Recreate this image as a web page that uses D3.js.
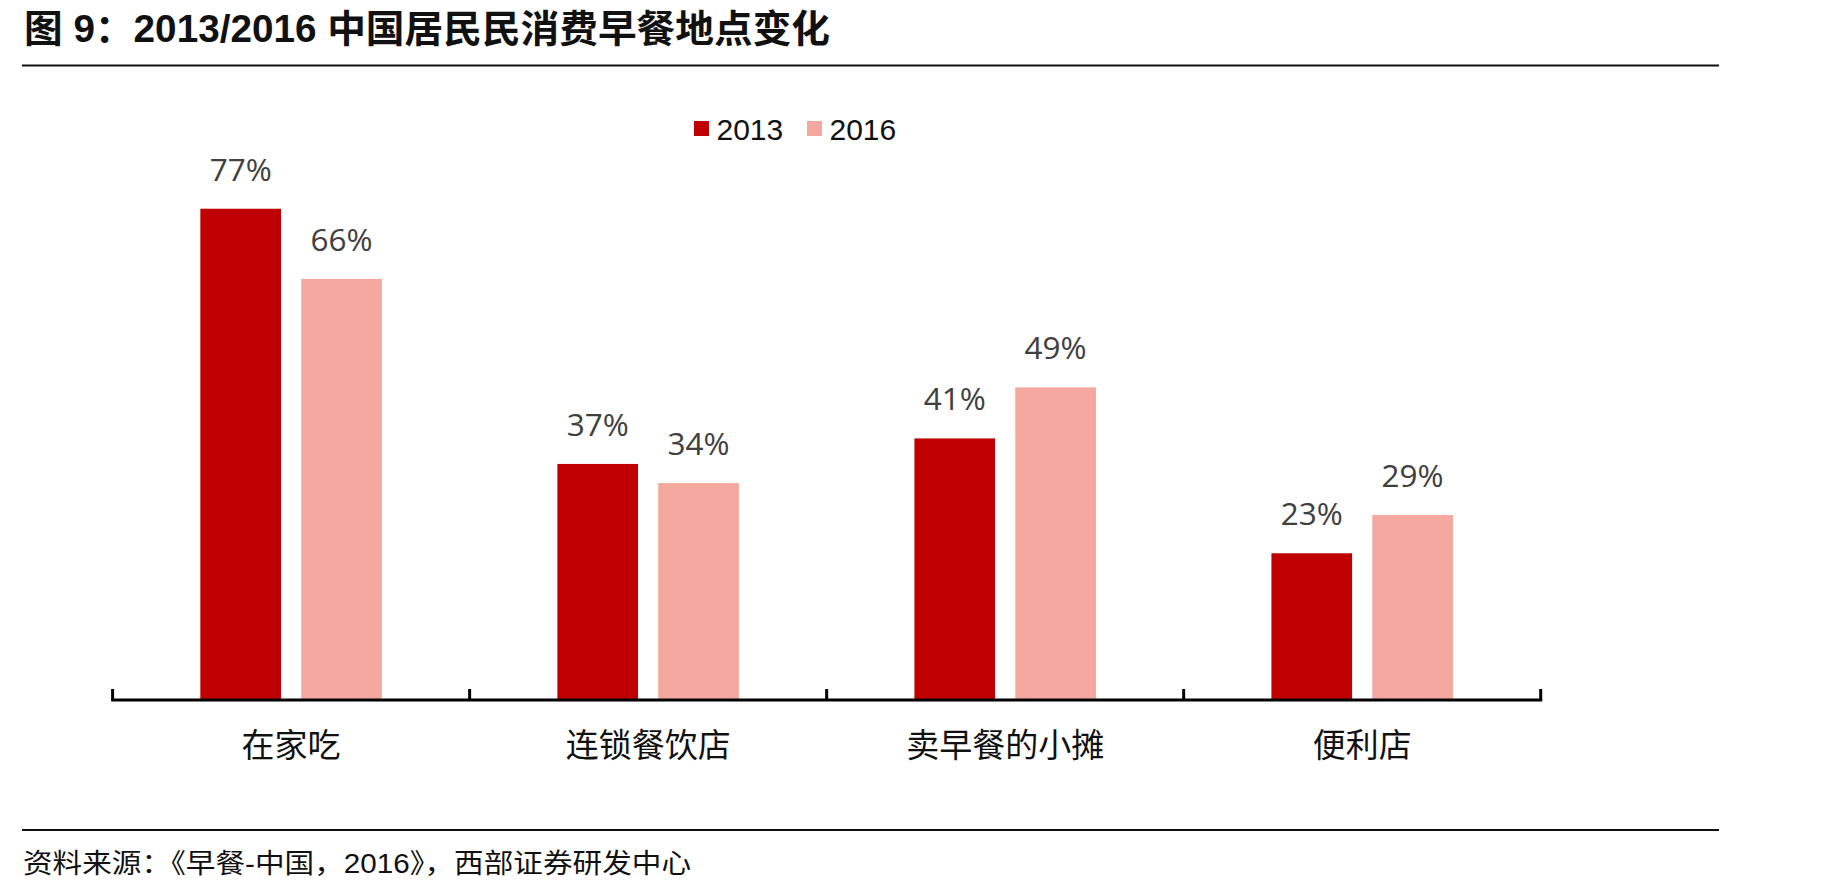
<!DOCTYPE html>
<html>
<head>
<meta charset="utf-8">
<script src="https://cdn.jsdelivr.net/npm/d3@7"></script>
<style>
  body { margin: 0; background: #fff; }
</style>
</head>
<body>
<div id="chart"></div>
<script>
var categories = ["在家吃", "连锁餐饮店", "卖早餐的小摊", "便利店"];
var years = ["2013", "2016"];
var values2013 = [77, 37, 41, 23];
var values2016 = [66, 34, 49, 29];
var colors = ["#c00000", "#f5a89f"];

var titleText = "图 9：2013/2016 中国居民民消费早餐地点变化";
var sourceText = "资料来源：《早餐-中国，2016》，西部证券研发中心";

var cjk = "'Liberation Sans', Arial, 'Noto Sans CJK SC', sans-serif";
var numFont = "'Open Sans', 'Noto Sans', sans-serif";

var svg = d3.select("#chart").append("svg")
    .attr("width", 1836)
    .attr("height", 894);

// title + rules
svg.append("text")
    .attr("x", 24)
    .attr("y", 42)
    .attr("textLength", 806)
    .attr("lengthAdjust", "spacingAndGlyphs")
    .style("font-family", cjk)
    .style("font-weight", "bold")
    .style("font-size", "38px")
    .style("fill", "#111")
    .text(titleText);

svg.append("line")
    .attr("x1", 22).attr("x2", 1719)
    .attr("y1", 65.5).attr("y2", 65.5)
    .attr("stroke", "#111").attr("stroke-width", 2);

svg.append("line")
    .attr("x1", 22).attr("x2", 1719)
    .attr("y1", 830).attr("y2", 830)
    .attr("stroke", "#111").attr("stroke-width", 2);

svg.append("text")
    .attr("x", 23)
    .attr("y", 873)
    .attr("textLength", 668)
    .attr("lengthAdjust", "spacingAndGlyphs")
    .style("font-family", cjk)
    .style("font-size", "27px")
    .style("fill", "#111")
    .text(sourceText);

// scales
var x0 = d3.scaleBand()
    .domain(categories)
    .range([112.6, 1540.7])
    .paddingInner(0)
    .paddingOuter(0);

var x1 = d3.scaleBand()
    .domain(years)
    .range([0, x0.bandwidth()])
    .paddingInner(0.2)
    .paddingOuter(0.87);

var y = d3.scaleLinear()
    .domain([0, 80])
    .range([700, 700 - 80 * 6.38]);

var data = categories.map(function(c, i) {
    return {cat: c, vals: [
        {year: "2013", v: values2013[i]},
        {year: "2016", v: values2016[i]}
    ]};
});

var groups = svg.append("g").selectAll("g")
    .data(data)
    .enter()
    .append("g")
    .attr("transform", function(d) { return "translate(" + x0(d.cat) + ",0)"; });

groups.selectAll("rect")
    .data(function(d) { return d.vals; })
    .enter()
    .append("rect")
    .attr("x", function(d) { return x1(d.year); })
    .attr("y", function(d) { return y(d.v); })
    .attr("width", x1.bandwidth())
    .attr("height", function(d) { return y(0) - y(d.v); })
    .attr("fill", function(d, i) { return colors[i]; });

groups.selectAll("text.val")
    .data(function(d) { return d.vals; })
    .enter()
    .append("text")
    .attr("class", "val")
    .attr("x", function(d) { return x1(d.year) + x1.bandwidth() / 2; })
    .attr("y", function(d) { return y(d.v) - 28; })
    .attr("text-anchor", "middle")
    .style("font-family", numFont)
    .style("font-size", "31.5px")
    .style("fill", "#404040")
    .text(function(d) { return d.v + "%"; });

// x axis: ticks pointing up at band edges
var axis = svg.append("g").attr("transform", "translate(0,700)");
axis.append("line")
    .attr("x1", x0.range()[0] - 1.5).attr("x2", x0.range()[1] + 1.5)
    .attr("stroke", "#000").attr("stroke-width", 3);
var edges = categories.map(function(c) { return x0(c); }).concat([x0.range()[1]]);
axis.selectAll("line.tick")
    .data(edges)
    .enter()
    .append("line")
    .attr("class", "tick")
    .attr("x1", function(d) { return d; })
    .attr("x2", function(d) { return d; })
    .attr("y1", 0).attr("y2", -11)
    .attr("stroke", "#000").attr("stroke-width", 3);

svg.append("g").selectAll("text")
    .data(categories)
    .enter()
    .append("text")
    .attr("x", function(d) { return x0(d) + x0.bandwidth() / 2; })
    .attr("y", 757)
    .attr("text-anchor", "middle")
    .style("font-family", "'Noto Sans CJK SC', sans-serif")
    .style("font-size", "33px")
    .style("fill", "#111")
    .text(function(d) { return d; });

// legend
var legendX = [694, 807];
var legend = svg.append("g").selectAll("g")
    .data(years)
    .enter()
    .append("g")
    .attr("transform", function(d, i) { return "translate(" + legendX[i] + ",0)"; });
legend.append("rect")
    .attr("x", 0).attr("y", 121)
    .attr("width", 15).attr("height", 15)
    .attr("fill", function(d, i) { return colors[i]; });
legend.append("text")
    .attr("x", 22.5)
    .attr("y", 139.5)
    .style("font-family", "'Liberation Sans', Arial, sans-serif")
    .style("font-size", "30px")
    .style("fill", "#111")
    .text(function(d) { return d; });
</script>
</body>
</html>
